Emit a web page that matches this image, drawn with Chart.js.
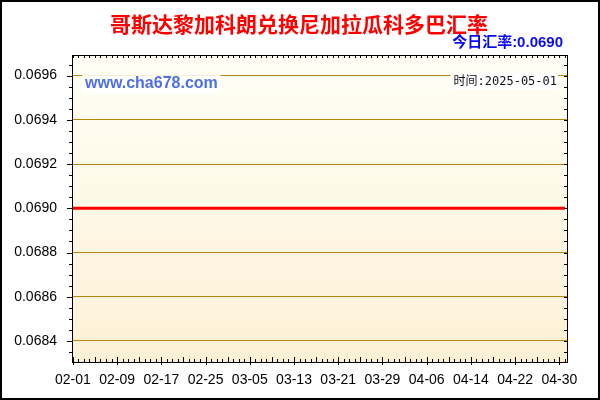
<!DOCTYPE html>
<html>
<head>
<meta charset="utf-8">
<script src="https://cdn.jsdelivr.net/npm/chart.js@4.4.1/dist/chart.umd.min.js"></script>
<style>
  html, body { margin: 0; padding: 0; background: #fff; }
  canvas { display: block; }
</style>
</head>
<body>
<canvas id="rateChart" width="600" height="400"></canvas>
<script>
// daily dates, 02-01 .. 05-01
var dates = [
    '02-01','02-02','02-03','02-04','02-05','02-06','02-07','02-08','02-09','02-10',
    '02-11','02-12','02-13','02-14','02-15','02-16','02-17','02-18','02-19','02-20',
    '02-21','02-22','02-23','02-24','02-25','02-26','02-27','02-28',
    '03-01','03-02','03-03','03-04','03-05','03-06','03-07','03-08','03-09','03-10',
    '03-11','03-12','03-13','03-14','03-15','03-16','03-17','03-18','03-19','03-20',
    '03-21','03-22','03-23','03-24','03-25','03-26','03-27','03-28','03-29','03-30','03-31',
    '04-01','04-02','04-03','04-04','04-05','04-06','04-07','04-08','04-09','04-10',
    '04-11','04-12','04-13','04-14','04-15','04-16','04-17','04-18','04-19','04-20',
    '04-21','04-22','04-23','04-24','04-25','04-26','04-27','04-28','04-29','04-30',
    '05-01'
];

// CRC -> NIO rate, flat over the period
var rates = [
    0.0690,0.0690,0.0690,0.0690,0.0690,0.0690,0.0690,0.0690,0.0690,0.0690,
    0.0690,0.0690,0.0690,0.0690,0.0690,0.0690,0.0690,0.0690,0.0690,0.0690,
    0.0690,0.0690,0.0690,0.0690,0.0690,0.0690,0.0690,0.0690,
    0.0690,0.0690,0.0690,0.0690,0.0690,0.0690,0.0690,0.0690,0.0690,0.0690,
    0.0690,0.0690,0.0690,0.0690,0.0690,0.0690,0.0690,0.0690,0.0690,0.0690,
    0.0690,0.0690,0.0690,0.0690,0.0690,0.0690,0.0690,0.0690,0.0690,0.0690,0.0690,
    0.0690,0.0690,0.0690,0.0690,0.0690,0.0690,0.0690,0.0690,0.0690,0.0690,
    0.0690,0.0690,0.0690,0.0690,0.0690,0.0690,0.0690,0.0690,0.0690,0.0690,
    0.0690,0.0690,0.0690,0.0690,0.0690,0.0690,0.0690,0.0690,0.0690,0.0690,
    0.0690
];

var xTickLabels = ['02-01','02-09','02-17','02-25','03-05','03-13','03-21','03-29','04-06','04-14','04-22','04-30'];
var yTicks = [0.0684, 0.0686, 0.0688, 0.0690, 0.0692, 0.0694, 0.0696];

var titleText = '哥斯达黎加科朗兑换尼加拉瓜科多巴汇率';
var todayText = '今日汇率:0.0690';
var dateText = '时间:2025-05-01';
var siteText = 'www.cha678.com';

// background, frame, tick marks and captions
var framePlugin = {
    id: 'frame',
    beforeDraw: function (chart) {
        var c = chart.ctx, a = chart.chartArea;
        c.save();
        c.fillStyle = '#ffffff';
        c.fillRect(0, 0, chart.width, chart.height);
        var g = c.createLinearGradient(0, a.top, 0, a.bottom);
        g.addColorStop(0, '#fffff6');
        g.addColorStop(1, '#fdf0d6');
        c.fillStyle = g;
        c.fillRect(a.left, a.top, a.right - a.left, a.bottom - a.top);
        c.restore();
    },
    afterDraw: function (chart) {
        var c = chart.ctx, a = chart.chartArea;
        var xs = chart.scales.x, ys = chart.scales.y;
        c.save();

        // plot frame
        c.strokeStyle = '#000';
        c.lineWidth = 1;
        c.strokeRect(a.left + 0.5, a.top + 0.5, a.right - a.left - 1, a.bottom - a.top);

        c.beginPath();
        // x ticks, one per day
        for (var i = 0; i < dates.length; i++) {
            var px = Math.round(xs.getPixelForValue(i)) + 0.5;
            var up = (i % 4 === 0) ? 5 : 3;
            c.moveTo(px, a.bottom);
            c.lineTo(px, a.bottom - up);
            if (i % 8 === 0) {
                c.moveTo(px, a.bottom);
                c.lineTo(px, a.bottom + 3);
            }
            c.moveTo(px, a.top);
            c.lineTo(px, a.top + 3);
        }
        // y ticks every 0.00005
        var step = 0.00005;
        var k0 = Math.ceil(ys.min / step), k1 = Math.floor(ys.max / step);
        for (var k = k0; k <= k1; k++) {
            var v = k * step;
            var py = Math.round(ys.getPixelForValue(v)) + 0.5;
            var major = Math.abs(v / 0.0002 - Math.round(v / 0.0002)) < 1e-6;
            c.moveTo(a.left + 1, py);
            c.lineTo(a.left - (major ? 5 : 3), py);
            c.moveTo(a.right - 1, py);
            c.lineTo(a.right - 4, py);
        }
        c.stroke();

        // outer border
        c.lineWidth = 2;
        c.strokeRect(1, 1, chart.width - 2, chart.height - 2);

        // title
        c.textBaseline = 'middle';
        c.textAlign = 'center';
        c.fillStyle = '#ff0000';
        c.font = 'bold 21px "Noto Sans CJK SC", sans-serif';
        c.fillText(titleText, 299, 24);

        // today's rate
        c.textAlign = 'right';
        c.fillStyle = '#0b0bf0';
        c.font = 'bold 15px "Liberation Sans", "Noto Sans CJK SC", sans-serif';
        c.fillText(todayText, 563, 43);

        // site watermark
        c.font = 'bold 16px "Liberation Sans", Arial, sans-serif';
        var sw = c.measureText(siteText).width;
        c.fillStyle = 'rgba(255,255,255,0.85)';
        c.fillRect(82, 75, sw + 6, 19);
        c.textAlign = 'left';
        c.fillStyle = '#4f6fe6';
        c.fillText(siteText, 85, 84);

        // date stamp
        c.font = '12px "DejaVu Sans Mono", "Noto Sans CJK SC", monospace';
        var dw = c.measureText(dateText).width;
        c.fillStyle = '#ffffff';
        c.fillRect(557 - dw - 3, 73, dw + 4, 17);
        c.textAlign = 'right';
        c.fillStyle = '#111';
        c.fillText(dateText, 557, 82);

        c.restore();
    }
};

var ctxRate = document.getElementById('rateChart').getContext('2d');
var rateChart = new Chart(ctxRate, {
    type: 'line',
    data: {
        datasets: [{
            label: 'CRC/NIO',
            data: rates.map(function (r, i) { return { x: i, y: r }; }),
            borderColor: '#ff0000',
            borderWidth: 3,
            pointRadius: 0,
            tension: 0,
            fill: false
        }]
    },
    options: {
        responsive: false,
        animation: false,
        devicePixelRatio: 1,
        layout: { padding: { left: 0, right: 32, top: 55, bottom: 0 } },
        plugins: {
            legend: { display: false },
            tooltip: { enabled: false }
        },
        scales: {
            x: {
                type: 'linear',
                min: -0.15,
                max: 89.55,
                afterBuildTicks: function (scale) {
                    scale.ticks = xTickLabels.map(function (l) { return { value: dates.indexOf(l) }; });
                },
                afterFit: function (scale) { scale.height = 38; },
                grid: { display: false, drawTicks: false },
                border: { display: false },
                ticks: {
                    autoSkip: false,
                    maxRotation: 0,
                    padding: 10,
                    color: '#000',
                    font: { family: '"Liberation Sans", Arial, sans-serif', size: 14 },
                    callback: function (v) { return dates[v]; }
                }
            },
            y: {
                min: 0.068305,
                max: 0.069693,
                afterBuildTicks: function (scale) {
                    scale.ticks = yTicks.map(function (v) { return { value: v }; });
                },
                afterFit: function (scale) { scale.width = 72; },
                grid: { color: '#b8860b', lineWidth: 1, drawTicks: false },
                border: { display: false },
                ticks: {
                    padding: 15,
                    color: '#000',
                    font: { family: '"Liberation Sans", Arial, sans-serif', size: 14 },
                    callback: function (v) { return v.toFixed(4); }
                }
            }
        }
    },
    plugins: [framePlugin]
});
</script>
</body>
</html>
